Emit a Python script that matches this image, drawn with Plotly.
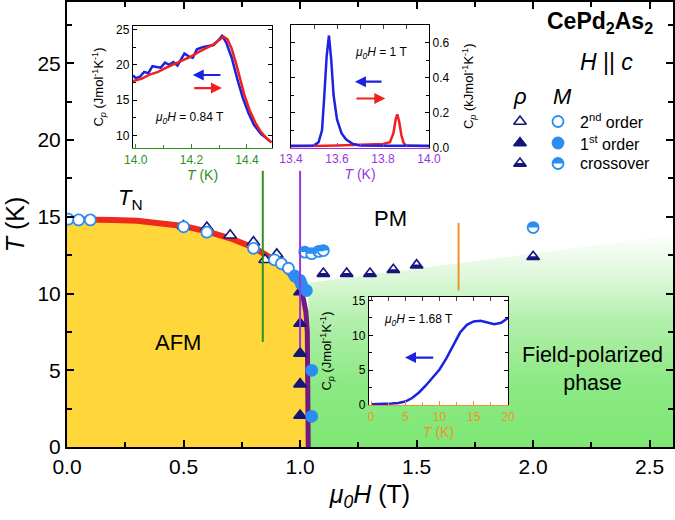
import plotly.graph_objects as go

# ---------------- data ----------------
# T_N (second-order) phase boundary, red line
tn_H = [0.0, 0.1, 0.2, 0.3, 0.4, 0.5, 0.6, 0.7, 0.8, 0.85, 0.9, 0.95, 0.985]
tn_T = [14.85, 14.85, 14.8, 14.75, 14.6, 14.4, 14.05, 13.6, 13.0, 12.6, 12.1, 11.4, 10.8]
# first-order boundary, purple line
fo_H = [0.985, 1.0, 1.015, 1.025, 1.031, 1.034, 1.035]
fo_T = [10.8, 10.3, 9.6, 8.8, 7.5, 4.0, 0.0]
# crossover (top of field-polarized shading)
cr_H = [1.035, 2.6]
cr_T = [10.7, 13.8]

# resistivity (triangles)
rho2_H = [0.5, 0.6, 0.7, 0.8, 0.85, 0.9]
rho2_T = [14.4, 14.3, 13.8, 13.35, 12.2, 12.55]
rho1_H = [1.0, 1.0, 1.0, 1.0, 1.0]
rho1_T = [10.1, 8.05, 6.1, 4.1, 2.05]
rhoc_H = [1.1, 1.2, 1.3, 1.4, 1.5, 2.0]
rhoc_T = [11.3, 11.3, 11.3, 11.55, 11.85, 12.4]
# magnetization (circles)
m2_H = [0.005, 0.05, 0.1, 0.5, 0.6, 0.8, 0.89, 0.92, 0.95]
m2_T = [14.85, 14.8, 14.8, 14.35, 14.0, 12.95, 12.2, 11.95, 11.65]
m1_H = [0.977, 1.0, 1.006, 1.027, 1.05, 1.05]
m1_T = [11.15, 10.85, 10.6, 10.2, 5.0, 2.0]
mc_H = [1.02, 1.05, 1.08, 1.1, 2.0]
mc_T = [12.7, 12.6, 12.75, 12.8, 14.3]

# vertical marker lines (fields of the insets)
vl_H = [0.84, 1.0, 1.68]
vl_lo = [6.85, 6.5, 10.2]
vl_hi = [18.0, 18.0, 14.6]

# inset 1 : mu0H = 0.84 T
i1b_T = [13.99, 14.0, 14.015, 14.03, 14.045, 14.06, 14.075, 14.09, 14.105, 14.12, 14.135, 14.15,
         14.175, 14.19, 14.205, 14.22, 14.24, 14.26, 14.28, 14.3, 14.31, 14.325, 14.345, 14.365,
         14.385, 14.405, 14.425, 14.45, 14.47, 14.488]
i1b_C = [18.5, 18.1, 18.3, 19.0, 18.8, 19.8, 19.7, 19.6, 20.3, 20.0, 20.4, 19.9,
         21.6, 21.2, 21.0, 22.2, 22.5, 22.6, 22.8, 23.6, 24.1, 23.2, 21.0, 18.0,
         15.3, 13.2, 11.5, 10.2, 9.5, 9.0]
i1r_T = [13.99, 14.02, 14.05, 14.08, 14.11, 14.14, 14.17, 14.2, 14.23, 14.26, 14.28, 14.3,
         14.315, 14.33, 14.345, 14.36, 14.375, 14.39, 14.41, 14.43, 14.45, 14.47, 14.488]
i1r_C = [17.7, 18.0, 18.6, 19.0, 19.6, 20.1, 20.6, 21.2, 21.9, 22.5, 22.9, 23.5,
         24.0, 23.6, 22.3, 20.3, 18.0, 15.8, 13.5, 11.8, 10.5, 9.6, 9.0]
# inset 2 : mu0H = 1 T
i2b_T = [13.4, 13.45, 13.5, 13.52, 13.535, 13.545, 13.555, 13.565, 13.575, 13.585, 13.6, 13.62,
         13.64, 13.67, 13.7, 13.8, 13.9, 14.0]
i2b_C = [0.01, 0.01, 0.012, 0.03, 0.1, 0.3, 0.52, 0.64, 0.5, 0.3, 0.16, 0.08,
         0.045, 0.02, 0.012, 0.01, 0.01, 0.01]
i2r_T = [13.4, 13.5, 13.6, 13.7, 13.8, 13.83, 13.845, 13.855, 13.862, 13.87, 13.88, 13.89,
         13.9, 13.95, 14.0]
i2r_C = [0.005, 0.01, 0.012, 0.015, 0.02, 0.03, 0.08, 0.16, 0.19, 0.15, 0.07, 0.025,
         0.012, 0.008, 0.005]
# inset 3 : mu0H = 1.68 T
i3_T = [0, 1, 2, 3, 4, 5, 6, 7, 8, 9, 10, 11, 12, 13, 14, 15, 16, 17, 18, 19, 20]
i3_C = [0.1, 0.12, 0.15, 0.2, 0.3, 0.5, 1.0, 1.8, 2.8, 3.9, 5.1, 6.7, 8.6, 10.4, 11.5,
        12.0, 12.1, 11.9, 11.6, 11.8, 12.5]

# ---------------- geometry helpers ----------------
W, HGT = 675, 520
ML, MR, MT, MB = 67, 2, 2, 73
PW = W - ML - MR
PH = HGT - MT - MB
XR = [0, 2.6]
YR = [0, 29]


def px2x(px):
    return XR[0] + (px - ML) / PW * (XR[1] - XR[0])


def py2y(py):
    return YR[0] + (MT + PH - py) / PH * (YR[1] - YR[0])


def dxp(px):
    return (px - ML) / PW


def dyp(py):
    return (MT + PH - py) / PH


FONT = "Arial, 'Liberation Sans', sans-serif"
YELLOW = '#FFD73A'
RED = '#EE2A1C'
PURPLE = '#74197F'
NAVY = '#15157A'
MBLUE = '#2B8DF2'
VGREEN = '#2F8F1F'
VPURPLE = '#9A35E0'
VORANGE = '#F2922A'
CBLUE = '#1C22E0'
CRED = '#F02020'

fig = go.Figure()

# field-polarized shading
fig.add_trace(go.Scatter(
    x=[cr_H[0], cr_H[1], cr_H[1], cr_H[0]], y=[0, 0, cr_T[1], cr_T[0]],
    mode='none', fill='toself',
    fillgradient=dict(type='vertical', colorscale=[[0, '#7EE774'], [0.3, '#8CE984'], [0.6, '#B3EFAC'],
                                                  [0.8, '#DDF8DA'], [1, '#FBFEFB']]),
    hoverinfo='skip', showlegend=False))
# AFM region
fig.add_trace(go.Scatter(
    x=tn_H + fo_H[1:] + [0], y=tn_T + fo_T[1:] + [0],
    mode='none', fill='toself', fillcolor=YELLOW, hoverinfo='skip', showlegend=False))
# boundaries
fig.add_trace(go.Scatter(x=tn_H, y=tn_T, mode='lines', line=dict(color=RED, width=6),
                         showlegend=False, hoverinfo='skip'))
fig.add_trace(go.Scatter(x=fo_H, y=fo_T, mode='lines', line=dict(color=PURPLE, width=5),
                         showlegend=False, hoverinfo='skip'))

TRI = 11
CIR = 11
# triangles
fig.add_trace(go.Scatter(x=rho2_H, y=rho2_T, mode='markers',
                         marker=dict(symbol='triangle-up', size=TRI, color='white',
                                     line=dict(color=NAVY, width=1.6)), showlegend=False))
fig.add_trace(go.Scatter(x=rho1_H, y=rho1_T, mode='markers',
                         marker=dict(symbol='triangle-up', size=TRI, color=NAVY,
                                     line=dict(color=NAVY, width=1.6)), showlegend=False))
fig.add_trace(go.Scatter(x=rhoc_H, y=rhoc_T, mode='markers',
                         marker=dict(symbol='triangle-up', size=TRI, color='white',
                                     line=dict(color=NAVY, width=1.6)), showlegend=False))
# circles
fig.add_trace(go.Scatter(x=m2_H, y=m2_T, mode='markers',
                         marker=dict(symbol='circle', size=CIR, color='white',
                                     line=dict(color=MBLUE, width=1.8)), showlegend=False))
fig.add_trace(go.Scatter(x=m1_H, y=m1_T, mode='markers',
                         marker=dict(symbol='circle', size=CIR, color=MBLUE,
                                     line=dict(color=MBLUE, width=1.8)), showlegend=False))
fig.add_trace(go.Scatter(x=mc_H, y=mc_T, mode='markers',
                         marker=dict(symbol='circle', size=CIR, color='white',
                                     line=dict(color=MBLUE, width=1.8)), showlegend=False))
# vertical lines
for h, lo, hi, c in zip(vl_H, vl_lo, vl_hi, [VGREEN, VPURPLE, VORANGE]):
    fig.add_trace(go.Scatter(x=[h, h], y=[lo, hi], mode='lines', line=dict(color=c, width=2),
                             showlegend=False, hoverinfo='skip'))

# legend markers (key)
leg_x_tri = px2x(520)
leg_x_cir = px2x(558)
leg_ys = [py2y(121.5), py2y(143), py2y(163.5)]
fig.add_trace(go.Scatter(x=[leg_x_tri] * 3, y=leg_ys, mode='markers',
                         marker=dict(symbol='triangle-up', size=TRI, color=['white', NAVY, 'white'],
                                     line=dict(color=NAVY, width=1.6)), showlegend=False))
fig.add_trace(go.Scatter(x=[leg_x_cir] * 3, y=leg_ys, mode='markers',
                         marker=dict(symbol='circle', size=CIR, color=['white', MBLUE, 'white'],
                                     line=dict(color=MBLUE, width=1.8)), showlegend=False))

# insets
fig.add_trace(go.Scatter(x=i1b_T, y=i1b_C, xaxis='x2', yaxis='y2', mode='lines',
                         line=dict(color=CBLUE, width=2.5), showlegend=False))
fig.add_trace(go.Scatter(x=i1r_T, y=i1r_C, xaxis='x2', yaxis='y2', mode='lines',
                         line=dict(color=CRED, width=2.5), showlegend=False))
fig.add_trace(go.Scatter(x=i2r_T, y=i2r_C, xaxis='x3', yaxis='y3', mode='lines',
                         line=dict(color=CRED, width=2.5), showlegend=False))
fig.add_trace(go.Scatter(x=i2b_T, y=i2b_C, xaxis='x3', yaxis='y3', mode='lines',
                         line=dict(color=CBLUE, width=2.5), showlegend=False))
fig.add_trace(go.Scatter(x=i3_T, y=i3_C, xaxis='x4', yaxis='y4', mode='lines',
                         line=dict(color=CBLUE, width=2.5), showlegend=False))

# half-filled marker shapes
shapes = []


def half_circle(h, t, color):
    r = CIR / 2.0
    k = 0.5523 * r
    path = f"M {-r},0 C {-r},{k} {-k},{r} 0,{r} C {k},{r} {r},{k} {r},0 Z"
    return dict(type='path', xref='x', yref='y', xsizemode='pixel', ysizemode='pixel',
                xanchor=h, yanchor=t, path=path, fillcolor=color, line=dict(width=0), layer='above')


def tri_band(h, t, color):
    r = TRI / 2.0
    rt = r * 2 / 3 ** 0.5
    path = (f"M {-rt},{-0.5 * r} L {rt},{-0.5 * r} L {0.6 * rt},{0.1 * r} "
            f"L {-0.6 * rt},{0.1 * r} Z")
    return dict(type='path', xref='x', yref='y', xsizemode='pixel', ysizemode='pixel',
                xanchor=h, yanchor=t, path=path, fillcolor=color, line=dict(width=0), layer='above')


for h, t in zip(mc_H, mc_T):
    shapes.append(half_circle(h, t, MBLUE))
for h, t in zip(rhoc_H, rhoc_T):
    shapes.append(tri_band(h, t, NAVY))
shapes.append(half_circle(leg_x_cir, leg_ys[2], MBLUE))
shapes.append(tri_band(leg_x_tri, leg_ys[2], NAVY))

# ---------------- axes ----------------
main_tick = dict(ticks='inside', ticklen=7, tickwidth=1.5, tickcolor='black', showline=True,
                 linewidth=2, linecolor='black', mirror='allticks', showgrid=False, zeroline=False,
                 automargin=False,
                 tickfont=dict(size=21, color='black', family=FONT))


def inset_axis(color, **kw):
    d = dict(ticks='inside', ticklen=4, tickwidth=1, tickcolor=color, showline=True, linewidth=1.3,
             linecolor=color, showgrid=False, zeroline=False, automargin=False,
             tickfont=dict(size=12, color=color, family=FONT))
    d.update(kw)
    return d


def top_axis(over, rng, **kw):
    d = dict(overlaying=over, anchor='y' + over[1:], side='top', range=rng, showline=True,
             linewidth=1.3, linecolor='black', showticklabels=False, showgrid=False,
             zeroline=False, automargin=False)
    d.update(kw)
    return d


i1_dom_x = [dxp(133), dxp(272)]
i1_dom_y = [dyp(148), dyp(26)]
i2_dom_x = [dxp(291), dxp(429)]
i2_dom_y = [dyp(147.5), dyp(25)]
i3_dom_x = [dxp(369), dxp(508)]
i3_dom_y = [dyp(405), dyp(297)]

layout = dict(
    width=W, height=HGT, margin=dict(l=ML, r=MR, t=MT, b=MB, pad=0, autoexpand=False),
    paper_bgcolor='white', plot_bgcolor='white',
    font=dict(family=FONT, color='black'),
    showlegend=False,
    xaxis=dict(range=XR, dtick=0.5, tick0=0, tickformat='.1f',
               minor=dict(dtick=0.25, ticks='inside', ticklen=5, tickcolor='black'),
               title=dict(text='<i>μ<sub>0</sub>H</i> (T)', font=dict(size=25), standoff=8),
               **main_tick),
    yaxis=dict(range=YR, dtick=5, tick0=0,
               minor=dict(dtick=2.5, ticks='inside', ticklen=5, tickcolor='black'),
               title=dict(text='<i>T</i> (K)', font=dict(size=25), standoff=6),
               **main_tick),
    # inset 1
    xaxis2=inset_axis(VGREEN, domain=i1_dom_x, anchor='y2', range=[13.99, 14.49], dtick=0.2,
                      tick0=14.0, tickformat='.1f',
                      minor=dict(dtick=0.1, ticks='inside', ticklen=3, tickcolor=VGREEN),
                      title=dict(text='<i>T</i> (K)', font=dict(size=14, color=VGREEN), standoff=2)),
    yaxis2=inset_axis('black', domain=i1_dom_y, anchor='x2', range=[8.2, 25.5], dtick=5, tick0=10,
                      mirror='ticks',
                      minor=dict(dtick=2.5, ticks='inside', ticklen=3, tickcolor='black'),
                      title=dict(text='C<sub><i>p</i></sub> (Jmol<sup>-1</sup>K<sup>-1</sup>)',
                                 font=dict(size=13), standoff=9)),
    xaxis5=top_axis('x2', [13.99, 14.49], ticks=''),
    # inset 2
    xaxis3=inset_axis(VPURPLE, domain=i2_dom_x, anchor='y3', range=[13.4, 14.0], dtick=0.2,
                      tick0=13.4, tickformat='.1f',
                      minor=dict(dtick=0.1, ticks='inside', ticklen=3, tickcolor=VPURPLE),
                      title=dict(text='<i>T</i> (K)', font=dict(size=14, color=VPURPLE), standoff=2)),
    yaxis3=inset_axis('black', domain=i2_dom_y, anchor='x3', side='right', range=[0, 0.7], dtick=0.2,
                      tick0=0, tickformat='.1f', mirror='ticks',
                      minor=dict(dtick=0.1, ticks='inside', ticklen=3, tickcolor='black'),
                      title=dict(text='C<sub><i>p</i></sub> (kJmol<sup>-1</sup>K<sup>-1</sup>)',
                                 font=dict(size=13), standoff=15)),
    xaxis6=top_axis('x3', [13.4, 14.0], ticks='inside', ticklen=4, dtick=0.1, tick0=13.4),
    # inset 3
    xaxis4=inset_axis(VORANGE, domain=i3_dom_x, anchor='y4', range=[-0.3, 20.0], dtick=5, tick0=0,
                      minor=dict(dtick=2.5, ticks='inside', ticklen=3, tickcolor=VORANGE),
                      title=dict(text='<i>T</i> (K)', font=dict(size=14, color=VORANGE), standoff=0)),
    yaxis4=inset_axis('black', domain=i3_dom_y, anchor='x4', range=[0, 15.5], dtick=5, tick0=0,
                      mirror='ticks',
                      minor=dict(dtick=2.5, ticks='inside', ticklen=3, tickcolor='black'),
                      title=dict(text='C<sub><i>p</i></sub> (Jmol<sup>-1</sup>K<sup>-1</sup>)',
                                 font=dict(size=13), standoff=17)),
    xaxis7=top_axis('x4', [-0.3, 20.0], ticks='inside', ticklen=4, dtick=2.5, tick0=0),
    shapes=shapes,
)
fig.update_layout(**layout)

# dummy traces so overlay axes are drawn
for xa, ya in [('x5', 'y2'), ('x6', 'y3'), ('x7', 'y4')]:
    fig.add_trace(go.Scatter(x=[None], y=[None], xaxis=xa, yaxis=ya, showlegend=False))

ann = []


def txt(x, y, text, size, xanchor='center', xref='paper', yref='paper', color='black'):
    ann.append(dict(x=x, y=y, xref=xref, yref=yref, text=text, showarrow=False, xanchor=xanchor,
                    yanchor='middle', font=dict(size=size, color=color, family=FONT)))


def arrow(xref, yref, x_head, x_tail, y, color):
    ann.append(dict(x=x_head, y=y, ax=x_tail, ay=y, xref=xref, yref=yref, axref=xref, ayref=yref,
                    showarrow=True, arrowhead=2, arrowsize=1.0, arrowwidth=2.2, arrowcolor=color,
                    text=''))


# main texts
txt(dxp(600), dyp(23), '<b>CePd<sub>2</sub>As<sub>2</sub></b>', 23)
txt(dxp(606), dyp(62), '<i>H</i>&#160;||&#160;<i>c</i>', 23)
txt(dxp(520), dyp(97), '<i>ρ</i>', 22)
txt(dxp(562), dyp(97), '<i>M</i>', 22)
txt(dxp(578), dyp(121.5), '2<sup>nd</sup> order', 16, xanchor='left')
txt(dxp(578), dyp(143), '1<sup>st</sup> order', 16, xanchor='left')
txt(dxp(578), dyp(163.5), 'crossover', 16, xanchor='left')
txt(dxp(130), dyp(199), '<i>T</i><sub>N</sub>', 22)
txt(dxp(178), dyp(342), 'AFM', 22)
txt(dxp(390), dyp(218), 'PM', 22)
txt(dxp(592), dyp(369), 'Field-polarized<br>phase', 21.5)

# inset texts
txt(14.061, 12.5, '<i>μ<sub>0</sub>H</i> = 0.84 T', 12, xanchor='left', xref='x2', yref='y2')
txt(13.67, 0.54, '<i>μ<sub>0</sub>H</i> = 1 T', 12, xanchor='left', xref='x3', yref='y3')
txt(1.56, 12.2, '<i>μ<sub>0</sub>H</i> = 1.68 T', 12, xanchor='left', xref='x4', yref='y4')

arrow('x2', 'y2', 14.205, 14.31, 18.55, CBLUE)
arrow('x2', 'y2', 14.31, 14.205, 16.7, CRED)
arrow('x3', 'y3', 13.678, 13.80, 0.376, CBLUE)
arrow('x3', 'y3', 13.81, 13.678, 0.28, CRED)
arrow('x4', 'y4', 4.96, 9.3, 6.8, CBLUE)

fig.update_layout(annotations=ann)
fig.write_html('out.html', config={'displayModeBar': False},
               post_script="document.body.style.margin='0px';document.body.style.padding='0px';")
